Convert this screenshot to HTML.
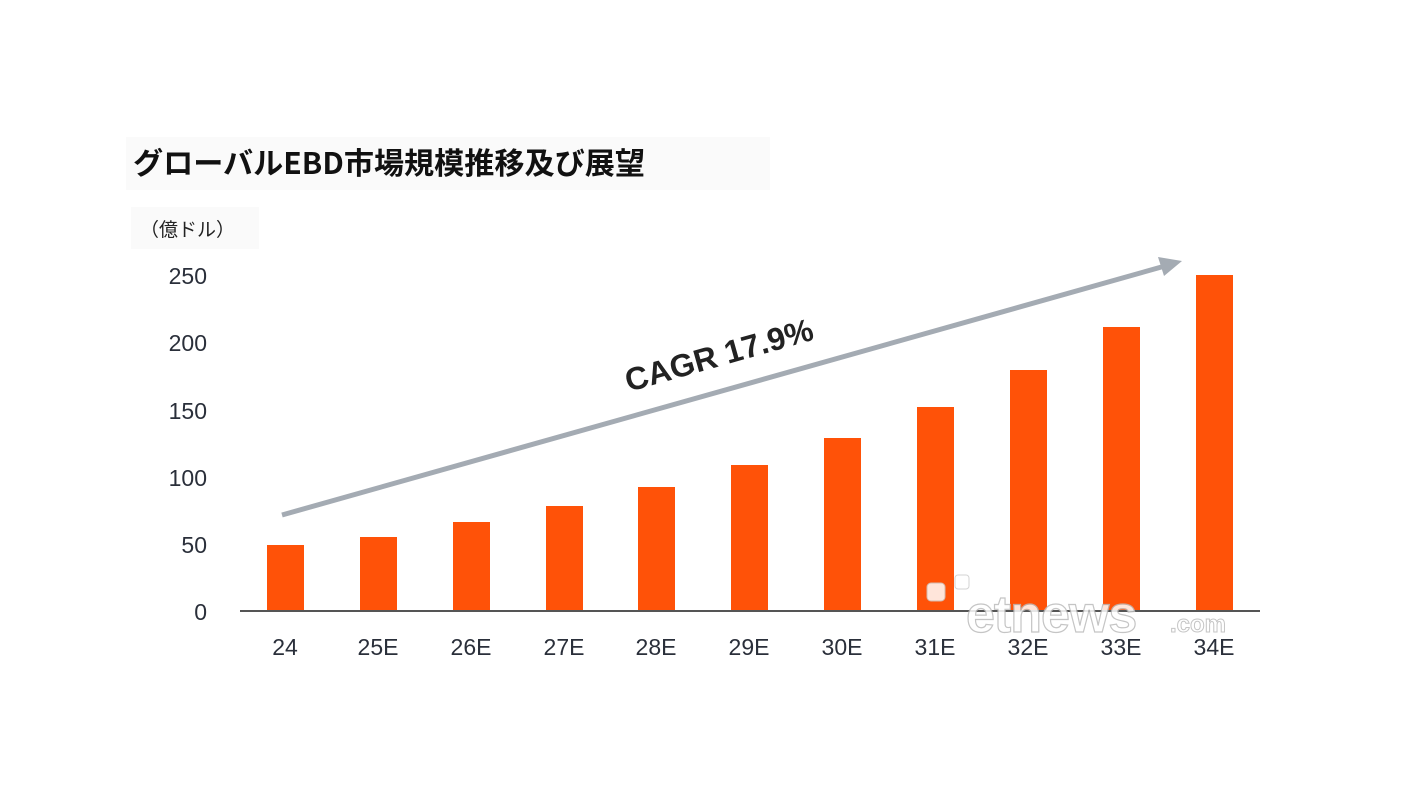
<!DOCTYPE html>
<html><head><meta charset="utf-8"><style>
body{margin:0;background:#fff;width:1417px;height:805px;overflow:hidden}
svg{display:block}
</style></head><body>
<svg width="1417" height="805" xmlns="http://www.w3.org/2000/svg" font-family="'Liberation Sans','Noto Sans CJK JP',sans-serif">
<rect x="126" y="137" width="644" height="53" fill="#fafafa"/>
<rect x="131" y="207" width="128" height="42" fill="#fafafa"/>
<text x="133" y="174" font-size="30" font-weight="bold" fill="#111" font-family="'Noto Sans CJK JP',sans-serif" textLength="512" lengthAdjust="spacingAndGlyphs">グローバルEBD市場規模推移及び展望</text>
<text x="140" y="236" font-size="19" fill="#222" font-family="'Noto Sans CJK JP',sans-serif">（億ドル）</text>
<g font-size="23" fill="#2a2f3a" text-anchor="end">
<text x="207" y="284">250</text><text x="207" y="351">200</text><text x="207" y="419">150</text>
<text x="207" y="486">100</text><text x="207" y="553">50</text><text x="207" y="620">0</text>
</g>
<g fill="#ff5208">
<rect x="267" y="545" width="37" height="66"/>
<rect x="360" y="537" width="37" height="74"/>
<rect x="453" y="522" width="37" height="89"/>
<rect x="546" y="506" width="37" height="105"/>
<rect x="638" y="487" width="37" height="124"/>
<rect x="731" y="465" width="37" height="146"/>
<rect x="824" y="438" width="37" height="173"/>
<rect x="917" y="407" width="37" height="204"/>
<rect x="1010" y="370" width="37" height="241"/>
<rect x="1103" y="327" width="37" height="284"/>
<rect x="1196" y="275" width="37" height="336"/>
</g>
<line x1="240" y1="611" x2="1260" y2="611" stroke="#555" stroke-width="2"/>
<g font-size="23" fill="#2a2f3a" text-anchor="middle">
<text x="285" y="655">24</text><text x="378" y="655">25E</text><text x="471" y="655">26E</text>
<text x="564" y="655">27E</text><text x="656" y="655">28E</text><text x="749" y="655">29E</text>
<text x="842" y="655">30E</text><text x="935" y="655">31E</text><text x="1028" y="655">32E</text>
<text x="1121" y="655">33E</text><text x="1214" y="655">34E</text>
</g>
<line x1="282" y1="515" x2="1165" y2="266" stroke="#a4abb3" stroke-width="5"/>
<polygon points="1182,261 1158,257 1164,276" fill="#a4abb3"/>
<text x="719" y="366" font-size="32" font-weight="bold" fill="#222" text-anchor="middle" transform="rotate(-15.7 719 355)">CAGR 17.9%</text>
<g opacity="0.85">
<rect x="927" y="583" width="18" height="18" rx="4" fill="#fff" stroke="#ccc"/>
<rect x="955" y="575" width="14" height="14" rx="3" fill="#fff" stroke="#ccc"/>
<text x="966" y="632" font-size="52" font-weight="bold" fill="#fff" stroke="#bbb" stroke-width="1.2" letter-spacing="-1">etnews</text>
<text x="1170" y="632" font-size="24" font-weight="bold" fill="#fff" stroke="#bbb" stroke-width="1">.com</text>
</g>
</svg>
</body></html>
